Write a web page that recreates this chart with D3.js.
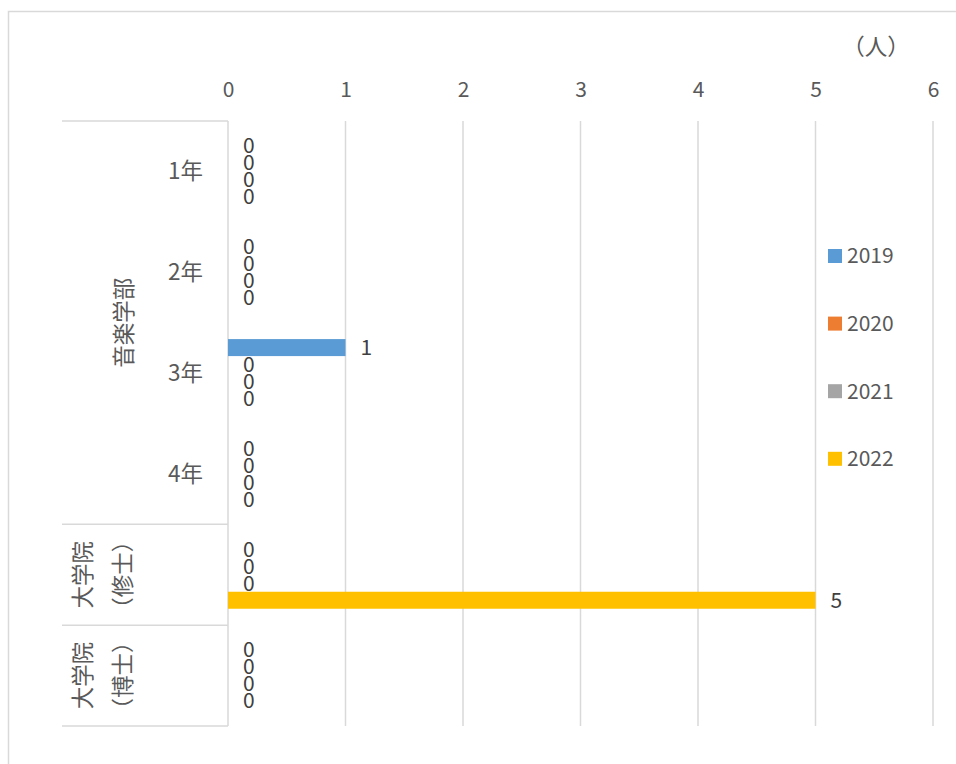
<!DOCTYPE html>
<html>
<head>
<meta charset="utf-8">
<script src="https://cdn.jsdelivr.net/npm/d3@7"></script>
<style>
  html, body { margin: 0; padding: 0; background: #fff; }
  svg { display: block; }
  text { font-family: "Noto Sans CJK JP", "Noto Sans", sans-serif; }
</style>
</head>
<body>
<svg id="chart" width="956" height="764"></svg>
<script>
// ---- data ----
const groups = ["音楽学部", "音楽学部", "音楽学部", "音楽学部", "大学院（修士）", "大学院（博士）"];
const categories = ["1年", "2年", "3年", "4年", "修士", "博士"];
const subLabels = ["1年", "2年", "3年", "4年", "", ""];
const seriesNames = ["2019", "2020", "2021", "2022"];
const values2019 = [0, 0, 1, 0, 0, 0];
const values2020 = [0, 0, 0, 0, 0, 0];
const values2021 = [0, 0, 0, 0, 0, 0];
const values2022 = [0, 0, 0, 0, 5, 0];
const xTicks = [0, 1, 2, 3, 4, 5, 6];
const colors = ["#5B9BD5", "#ED7D31", "#A5A5A5", "#FFC000"];
const unitLabel = "（人）";

const seriesValues = [values2019, values2020, values2021, values2022];

// ---- layout ----
const svg = d3.select("#chart");
const plot = { left: 228, right: 933, top: 121, bottom: 726 };
const axisColor = "#595959";
const gridColor = "#D9D9D9";
const fs = 21;      // digits
const fsCJK = 22.5; // CJK labels

// chart border
svg.append("rect").attr("x", 8.5).attr("y", 11.5).attr("width", 1000).attr("height", 1000)
  .attr("fill", "none").attr("stroke", gridColor).attr("stroke-width", 1.5);

const x = d3.scaleLinear().domain([0, 6]).range([plot.left, plot.right]);
const y = d3.scaleBand().domain(categories).range([plot.top, plot.bottom]).paddingInner(0).paddingOuter(0);
const ySub = d3.scaleBand().domain(seriesNames).range([0, y.bandwidth()]).paddingInner(0).paddingOuter(0.966);

// gridlines
svg.append("g").selectAll("line").data(xTicks).join("line")
  .attr("x1", d => x(d)).attr("x2", d => x(d))
  .attr("y1", plot.top).attr("y2", plot.bottom)
  .attr("stroke", gridColor).attr("stroke-width", 1.5);

// top axis tick labels
const xAxis = d3.axisTop(x).tickValues(xTicks).tickSize(0).tickPadding(0).tickFormat(d3.format("d"));
const gx = svg.append("g").attr("transform", `translate(0,${90})`).call(xAxis);
gx.select(".domain").remove();
gx.selectAll("text").attr("fill", axisColor).style("font-size", fs + "px")
  .attr("dy", "0.35em").attr("y", 0);

// unit label
svg.append("text").attr("x", 876).attr("y", 47).attr("dy", "0.35em").attr("text-anchor", "middle")
  .attr("fill", axisColor).style("font-size", fsCJK + "px").text(unitLabel);

// bars
const barData = [];
categories.forEach((c, i) => {
  seriesNames.forEach((s, j) => {
    barData.push({ cat: c, series: s, value: seriesValues[j][i], color: colors[j] });
  });
});

svg.append("g").selectAll("rect").data(barData).join("rect")
  .attr("x", x(0))
  .attr("y", d => y(d.cat) + ySub(d.series))
  .attr("width", d => x(d.value) - x(0))
  .attr("height", ySub.bandwidth())
  .attr("fill", d => d.color);

// data labels
svg.append("g").selectAll("text").data(barData).join("text")
  .attr("x", d => x(d.value) + 15)
  .attr("y", d => y(d.cat) + ySub(d.series) + ySub.bandwidth() / 2)
  .attr("dy", "0.35em")
  .attr("fill", "#404040")
  .style("font-size", fs + "px")
  .text(d => d.value);

// category axis lines (multi-level)
const boundaries = [plot.top, y("4年") + y.bandwidth(), y("修士") + y.bandwidth(), plot.bottom];
svg.append("g").selectAll("line").data(boundaries).join("line")
  .attr("x1", 62).attr("x2", plot.left)
  .attr("y1", d => d).attr("y2", d => d)
  .attr("stroke", gridColor).attr("stroke-width", 1.5);

// inner category labels
svg.append("g").selectAll("text").data(categories.filter((c, i) => subLabels[i] !== "")).join("text")
  .attr("x", 203)
  .attr("y", d => y(d) + y.bandwidth() / 2)
  .attr("dy", "0.35em")
  .attr("text-anchor", "end")
  .attr("fill", axisColor)
  .style("font-size", fsCJK + "px")
  .text(d => subLabels[categories.indexOf(d)]);

// outer group labels (rotated)
const musicCenter = (plot.top + y("4年") + y.bandwidth()) / 2;
svg.append("text")
  .attr("transform", `translate(124,${musicCenter}) rotate(-90)`)
  .attr("text-anchor", "middle").attr("dy", "0.35em")
  .attr("fill", axisColor).style("font-size", fsCJK + "px")
  .text(groups[0]);

[["修士", "大学院", "（修士）"], ["博士", "大学院", "（博士）"]].forEach(([cat, l1, l2]) => {
  const cy = y(cat) + y.bandwidth() / 2;
  const t = svg.append("text")
    .attr("transform", `translate(0,${cy}) rotate(-90)`)
    .attr("text-anchor", "middle")
    .attr("fill", axisColor).style("font-size", fsCJK + "px");
  t.append("tspan").attr("x", 0).attr("y", 83).attr("dy", "0.35em").text(l1);
  t.append("tspan").attr("x", 0).attr("y", 123).attr("dy", "0.35em").text(l2);
});

// legend
const legend = svg.append("g");
seriesNames.forEach((s, i) => {
  const cy = 256 + i * 67.6;
  legend.append("rect").attr("x", 828).attr("y", cy - 7).attr("width", 14).attr("height", 14).attr("fill", colors[i]);
  legend.append("text").attr("x", 847).attr("y", cy).attr("dy", "0.35em")
    .attr("fill", axisColor).style("font-size", fs + "px").text(s);
});
</script>
</body>
</html>
